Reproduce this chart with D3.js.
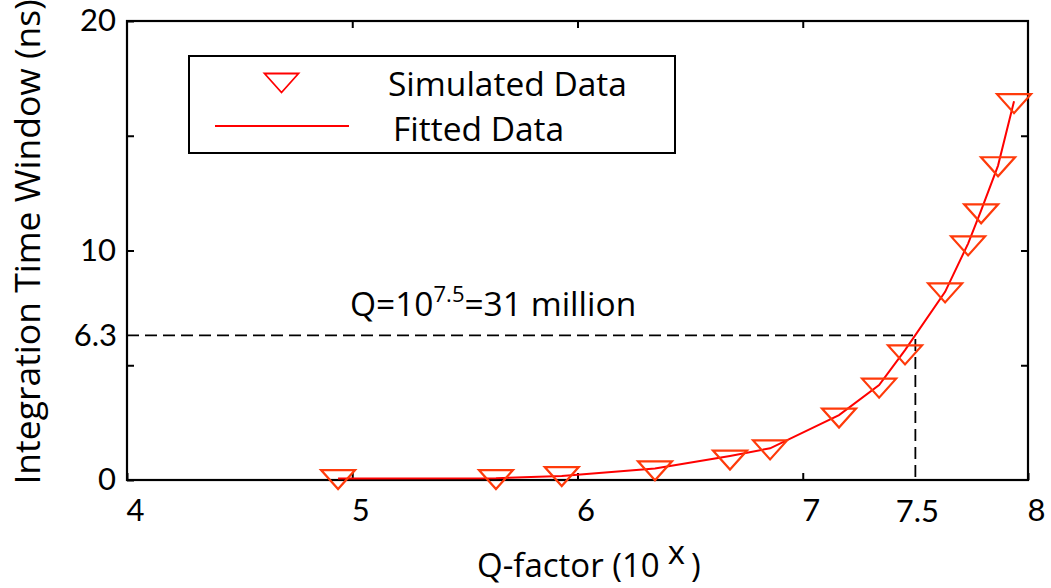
<!DOCTYPE html>
<html>
<head>
<meta charset="utf-8">
<script src="https://cdn.jsdelivr.net/npm/d3@7"></script>
<style>
  html, body { margin: 0; padding: 0; background: #fff; }
  svg text { font-family: "Open Sans", Lato, sans-serif; fill: #000; }
  svg text.num { font-family: Lato, "Open Sans", sans-serif; }
</style>
</head>
<body>
<svg id="chart" width="1051" height="588"></svg>
<script>
// Q-factor exponents (Q = 10^x)
const qExponent = [4.937, 5.638, 5.93, 6.344, 6.677, 6.855, 7.161, 7.339, 7.454, 7.632, 7.734, 7.792, 7.867, 7.938];
// Integration time window (ns), simulated points
const simulated = [0.02, 0.02, 0.15, 0.4, 0.87, 1.31, 2.7, 4.0, 5.45, 8.15, 10.2, 11.6, 13.65, 16.4];
// Integration time window (ns), fitted curve
const fitted = [0.07, 0.08, 0.17, 0.5, 1.05, 1.38, 2.83, 4.14, 5.66, 8.2, 10.3, 11.75, 13.7, 16.5];

const xTicks = [4, 5, 6, 7, 8];
const yTicks = [0, 5, 10, 15, 20];
const yLabelled = [0, 10, 20];
const marked = { q: 7.5, t: 6.3 };

const svg = d3.select("#chart");
const margin = { left: 127, right: 23, top: 21, bottom: 108 };
const W = 1051, H = 588;

const x = d3.scaleLinear().domain([4, 8]).range([margin.left, W - margin.right]);
const y = d3.scaleLinear().domain([0, 20]).range([H - margin.bottom, margin.top]);

const tickLen = 7;
const fontSize = 31;

// bottom axis: inward ticks, labels
const gB = svg.append("g")
  .attr("transform", `translate(0,${y(0)})`)
  .call(d3.axisBottom(x).tickValues(xTicks).tickSize(-tickLen).tickFormat(d3.format("d")).tickPadding(13));
gB.selectAll("text").attr("class", "num").attr("dx", 8).attr("dy", "0.9em").style("font-size", fontSize + "px");

// top axis: ticks only
svg.append("g")
  .attr("transform", `translate(0,${y(20)})`)
  .call(d3.axisTop(x).tickValues([5, 6, 7]).tickSize(-tickLen).tickFormat(""));

// left axis
const gL = svg.append("g")
  .attr("transform", `translate(${x(4)},0)`)
  .call(d3.axisLeft(y).tickValues(yTicks).tickSize(-tickLen)
        .tickFormat(d => yLabelled.includes(d) ? d : "").tickPadding(11));
gL.selectAll("text").attr("class", "num").style("font-size", fontSize + "px");

// right axis: ticks only
svg.append("g")
  .attr("transform", `translate(${x(8)},0)`)
  .call(d3.axisRight(y).tickValues([5, 10, 15]).tickSize(-tickLen).tickFormat(""));

svg.selectAll(".domain").remove();
svg.selectAll(".tick line").attr("stroke", "#000").attr("stroke-width", 2);

// plot frame
svg.append("rect")
  .attr("x", x(4)).attr("y", y(20))
  .attr("width", x(8) - x(4)).attr("height", y(0) - y(20))
  .attr("fill", "none").attr("stroke", "#000").attr("stroke-width", 2.2);

// dashed guide to the 7.5 / 6.3 operating point
svg.append("path")
  .attr("d", `M${x(4)},${y(marked.t)}H${x(marked.q)}V${y(0)}`)
  .attr("fill", "none").attr("stroke", "#000").attr("stroke-width", 1.8)
  .attr("stroke-dasharray", "12,6");

svg.append("text").attr("class", "num")
  .attr("x", x(4) - 10).attr("y", y(marked.t)).attr("dy", "0.35em")
  .attr("text-anchor", "end").style("font-size", fontSize + "px")
  .text(marked.t);
svg.append("text").attr("class", "num")
  .attr("x", x(marked.q) + 2).attr("y", y(0) + 42)
  .attr("text-anchor", "middle").style("font-size", fontSize + "px")
  .text(marked.q);

// fitted curve
const line = d3.line().x((d, i) => x(qExponent[i])).y(d => y(d));
svg.append("path")
  .datum(fitted)
  .attr("d", line)
  .attr("fill", "none").attr("stroke", "#ff0000").attr("stroke-width", 2);

// simulated markers: downward triangles
const tw = 17, th = 9.5;
const tri = `M${-tw},${-th}L${tw},${-th}L0,${th}Z`;
svg.append("g").selectAll("path")
  .data(simulated)
  .join("path")
  .attr("transform", (d, i) => `translate(${x(qExponent[i])},${y(d)})`)
  .attr("d", tri)
  .attr("fill", "none").attr("stroke", "#ff3a0a").attr("stroke-width", 2.2);

// annotation
const ann = svg.append("text").attr("x", 350).attr("y", 316).style("font-size", "33.5px");
ann.append("tspan").text("Q=10");
ann.append("tspan").attr("dy", -14).style("font-size", "22px").text("7.5");
ann.append("tspan").attr("dy", 14).text("=31 million");

// legend
const lg = svg.append("g");
lg.append("rect").attr("x", 189).attr("y", 56).attr("width", 486).attr("height", 97)
  .attr("fill", "#fff").attr("stroke", "#000").attr("stroke-width", 2);
lg.append("path").attr("transform", "translate(281.5,83)")
  .attr("d", `M${-tw},${-th}L${tw},${-th}L0,${th}Z`)
  .attr("fill", "none").attr("stroke", "#ff0000").attr("stroke-width", 1.8);
lg.append("line").attr("x1", 215).attr("x2", 349).attr("y1", 126).attr("y2", 126)
  .attr("stroke", "#ff0000").attr("stroke-width", 2);
lg.append("text").attr("x", 388).attr("y", 96).style("font-size", "33.5px").text("Simulated Data");
lg.append("text").attr("x", 393).attr("y", 141).style("font-size", "33.5px").text("Fitted Data");

// axis titles
const xt = svg.append("text").attr("x", 477).attr("y", 577).style("font-size", "33px");
xt.append("tspan").text("Q-factor (10");
xt.append("tspan").attr("dx", 8).attr("dy", -13).text("x");
xt.append("tspan").attr("dx", 6).attr("dy", 13).text(")");

svg.append("text")
  .attr("transform", "translate(40,242) rotate(-90)")
  .attr("text-anchor", "middle").style("font-size", "35.5px")
  .text("Integration Time Window (ns)");
</script>
</body>
</html>
